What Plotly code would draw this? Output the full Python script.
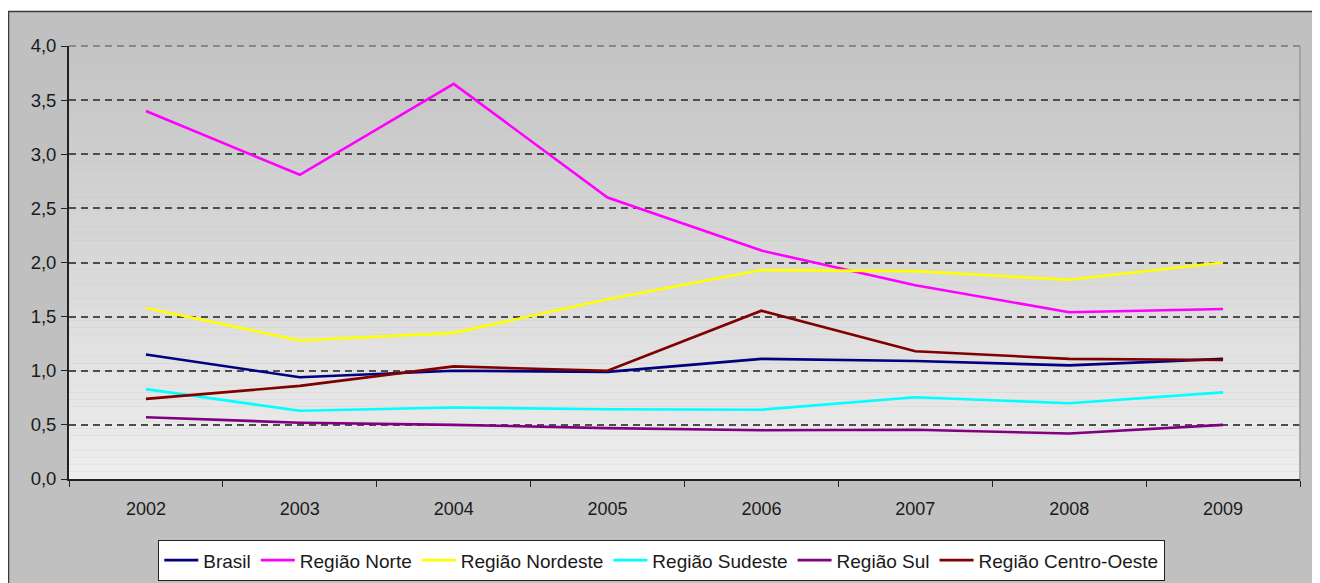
import plotly.graph_objects as go
import numpy as np

years = ["2002", "2003", "2004", "2005", "2006", "2007", "2008", "2009"]
brasil = [1.15, 0.94, 1.00, 0.99, 1.11, 1.09, 1.05, 1.11]
norte = [3.40, 2.81, 3.65, 2.60, 2.11, 1.79, 1.54, 1.57]
nordeste = [1.58, 1.28, 1.35, 1.66, 1.93, 1.92, 1.84, 2.00]
sudeste = [0.83, 0.63, 0.66, 0.645, 0.64, 0.755, 0.70, 0.80]
sul = [0.57, 0.52, 0.50, 0.47, 0.45, 0.455, 0.42, 0.50]
centro_oeste = [0.74, 0.86, 1.04, 1.00, 1.555, 1.18, 1.11, 1.10]

series = [
    ("Brasil", brasil, "#000080"),
    ("Região Norte", norte, "#FF00FF"),
    ("Região Nordeste", nordeste, "#FFFF00"),
    ("Região Sudeste", sudeste, "#00FFFF"),
    ("Região Sul", sul, "#800080"),
    ("Região Centro-Oeste", centro_oeste, "#800000"),
]

OFF = 8  # page body margin
W, H = 1320 - OFF, 583 - OFF
L, R, T, B = 69 - OFF, 1300 - OFF, 46 - OFF, 479 - OFF

fig = go.Figure()
for name, vals, col in series:
    fig.add_trace(go.Scatter(x=years, y=vals, mode="lines", name=name,
                             line=dict(color=col, width=2.6)))

def px_x(p):
    return (p - OFF - L) / (R - L)

def px_y(p):
    return (B - (p - OFF)) / (B - T)

shapes = []
# outer chart container
shapes.append(dict(type="rect", xref="paper", yref="paper",
                   x0=px_x(8.5), x1=px_x(1313), y0=px_y(620), y1=px_y(11.5),
                   fillcolor="#c0c0c0", line=dict(color="#3a3a3a", width=1.5),
                   layer="below"))
# gradient background of plot area
n = 60
c_top = np.array([0xc4, 0xc4, 0xc4])
c_bot = np.array([0xee, 0xee, 0xee])
for i in range(n):
    f = i / (n - 1)
    c = (c_top * (1 - f) + c_bot * f).astype(int)
    shapes.append(dict(type="rect", xref="x domain", yref="y domain",
                       x0=0, x1=1, y0=1 - (i + 1) / n, y1=1 - i / n,
                       fillcolor="rgb(%d,%d,%d)" % tuple(c), line=dict(width=0),
                       layer="below"))
# top gridline (lighter) and right border of plot area
shapes.append(dict(type="line", xref="x domain", yref="y domain",
                   x0=0, x1=1, y0=1, y1=1,
                   line=dict(color="#8a8a8a", width=1.8, dash="7px,5px")))
shapes.append(dict(type="line", xref="x domain", yref="y domain",
                   x0=1, x1=1, y0=0, y1=1, line=dict(color="#9a9a9a", width=1.5)))

fig.update_layout(
    width=W, height=H,
    margin=dict(l=L, r=W - R, t=T, b=H - B, autoexpand=False),
    paper_bgcolor="white",
    plot_bgcolor="rgba(0,0,0,0)",
    separators=",.",
    font=dict(family="Liberation Sans, Arial, sans-serif", size=18, color="#1a1a1a"),
    shapes=shapes,
    showlegend=True,
    legend=dict(orientation="h", x=px_x(661.5), xanchor="center",
                y=px_y(540), yanchor="top",
                bgcolor="white", bordercolor="#222", borderwidth=1.3,
                font=dict(size=19), itemwidth=34, tracegroupgap=0),
)
fig.update_xaxes(type="category", tickson="boundaries", ticks="outside",
                 ticklen=6, tickcolor="#222", showline=True, linecolor="#222",
                 linewidth=1.8, showgrid=False, tickfont=dict(size=18),
                 ticklabelstandoff=12, range=[-0.5, 7.5])
fig.update_yaxes(range=[0, 4.0], dtick=0.5, tickformat=".1f", ticks="outside",
                 ticklen=6, tickcolor="#222", showline=True, linecolor="#222",
                 linewidth=1.8, showgrid=True, gridcolor="#4d4d4d",
                 griddash="7px,5px", gridwidth=1.8, zeroline=False,
                 tickfont=dict(size=18.5), ticklabelstandoff=1)

fig.write_html("out.html")
